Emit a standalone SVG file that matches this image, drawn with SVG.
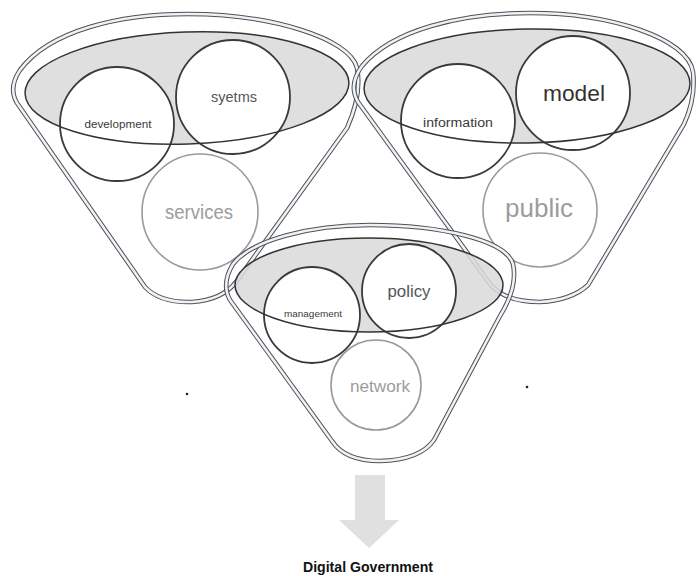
<svg xmlns="http://www.w3.org/2000/svg" width="696" height="576" viewBox="0 0 696 576">
  <style>
    .rim-dark { fill: none; stroke: #505050; stroke-width: 4.6; stroke-linejoin: round; }
    .rim-light { fill: none; stroke: #edf2f8; stroke-width: 2.6; stroke-linejoin: round; }
    .mouth-fill { fill: #d9d9d9; fill-opacity: 0.85; stroke: none; }
    .mouth-line { fill: none; stroke: #333; stroke-width: 1.5; }
    .ring { fill: #fff; stroke: #3a3a3a; stroke-width: 1.8; }
    .ring-soft { fill: #fff; stroke: #9a9a9a; stroke-width: 1.6; }
    text { font-family: "Liberation Sans", Arial, sans-serif; text-anchor: middle; }
    .small { fill: #3a3a3a; }
    .mid { fill: #555; }
    .dark { fill: #333; }
    .soft { fill: #9c9c9c; }
  </style>

  <defs>
    <path id="rim-left" d="M 17,103 Q 8,88 20,70 C 50,30 120,14 188,14 C 270,14 350,38 357,68 Q 362,95 347,128 L 236,282 Q 222,300 192,302 Q 160,303 145,287 Z"/>
    <path id="rim-right" d="M 358,102 Q 348,85 362,66 C 392,30 460,13 530,13 C 610,13 688,38 693,72 Q 696,98 684,124 L 588,285 Q 572,300 540,302 Q 505,302 490,284 Z"/>
    <path id="rim-bottom" d="M 230,300 Q 221,284 233,264 C 252,240 310,225 370,225 C 440,225 506,240 513,264 Q 518,287 500,316 L 434,440 Q 420,460 380,461 Q 345,461 332,441 Z"/>
    <ellipse id="mouth-left" cx="187" cy="88" rx="162" ry="56" transform="rotate(-2 187 88)"/>
    <ellipse id="mouth-right" cx="527" cy="86" rx="163" ry="57" transform="rotate(-1 527 86)"/>
    <ellipse id="mouth-bottom" cx="369" cy="285" rx="134" ry="47"/>
  </defs>

  <rect width="696" height="576" fill="#fff"/>

  <!-- left funnel -->
  <g id="funnel-left">
    <use href="#rim-left" class="rim-dark"/>
    <use href="#rim-left" class="rim-light"/>
    <use href="#mouth-left" class="mouth-fill"/>
    <g id="node-development">
      <circle class="ring" cx="117" cy="124" r="57"/>
      <text class="small" x="118" y="128" font-size="10.5" textLength="67" lengthAdjust="spacingAndGlyphs">development</text>
    </g>
    <g id="node-syetms">
      <circle class="ring" cx="233" cy="97" r="57"/>
      <text class="mid" x="234" y="102" font-size="15" textLength="46" lengthAdjust="spacingAndGlyphs">syetms</text>
    </g>
    <use href="#mouth-left" class="mouth-line"/>
    <g id="node-services">
      <circle class="ring-soft" cx="200" cy="212" r="58"/>
      <text class="soft" x="199" y="219" font-size="20" textLength="68" lengthAdjust="spacingAndGlyphs">services</text>
    </g>
  </g>

  <!-- right funnel -->
  <g id="funnel-right">
    <use href="#rim-right" class="rim-dark"/>
    <use href="#rim-right" class="rim-light"/>
    <use href="#mouth-right" class="mouth-fill"/>
    <g id="node-information">
      <circle class="ring" cx="458" cy="121" r="57"/>
      <text class="small" x="458" y="127" font-size="12" textLength="70" lengthAdjust="spacingAndGlyphs">information</text>
    </g>
    <g id="node-model">
      <circle class="ring" cx="573" cy="93" r="57"/>
      <text class="dark" x="574" y="101" font-size="22" textLength="62" lengthAdjust="spacingAndGlyphs">model</text>
    </g>
    <use href="#mouth-right" class="mouth-line"/>
    <g id="node-public">
      <circle class="ring-soft" cx="540" cy="210" r="57"/>
      <text class="soft" x="539" y="217" font-size="26" textLength="68" lengthAdjust="spacingAndGlyphs">public</text>
    </g>
  </g>

  <!-- bottom funnel -->
  <g id="funnel-bottom">
    <use href="#rim-bottom" class="rim-dark"/>
    <use href="#rim-bottom" class="rim-light"/>
    <use href="#mouth-bottom" class="mouth-fill"/>
    <g id="node-management">
      <circle class="ring" cx="312" cy="315" r="48"/>
      <text class="small" x="313" y="317" font-size="8.5" textLength="58" lengthAdjust="spacingAndGlyphs">management</text>
    </g>
    <g id="node-policy">
      <circle class="ring" cx="409" cy="291" r="47"/>
      <text class="mid" x="409" y="297" font-size="17" textLength="43" lengthAdjust="spacingAndGlyphs">policy</text>
    </g>
    <use href="#mouth-bottom" class="mouth-line"/>
    <g id="node-network">
      <circle class="ring-soft" cx="376" cy="385" r="45"/>
      <text class="soft" x="380" y="392" font-size="16" textLength="60" lengthAdjust="spacingAndGlyphs">network</text>
    </g>
  </g>

  <!-- stray dots -->
  <circle cx="187" cy="394" r="1.3" fill="#222"/>
  <circle cx="527" cy="387" r="1.3" fill="#222"/>

  <!-- output arrow -->
  <g id="connectors">
    <path d="M 355,475 H 385 V 520 H 399 L 369,548 L 339,520 H 355 Z" fill="#e0e0e0"/>
  </g>

  <g id="node-output">
    <text x="368" y="572" font-size="14" font-weight="bold" fill="#111" textLength="130" lengthAdjust="spacingAndGlyphs">Digital Government</text>
  </g>
</svg>
